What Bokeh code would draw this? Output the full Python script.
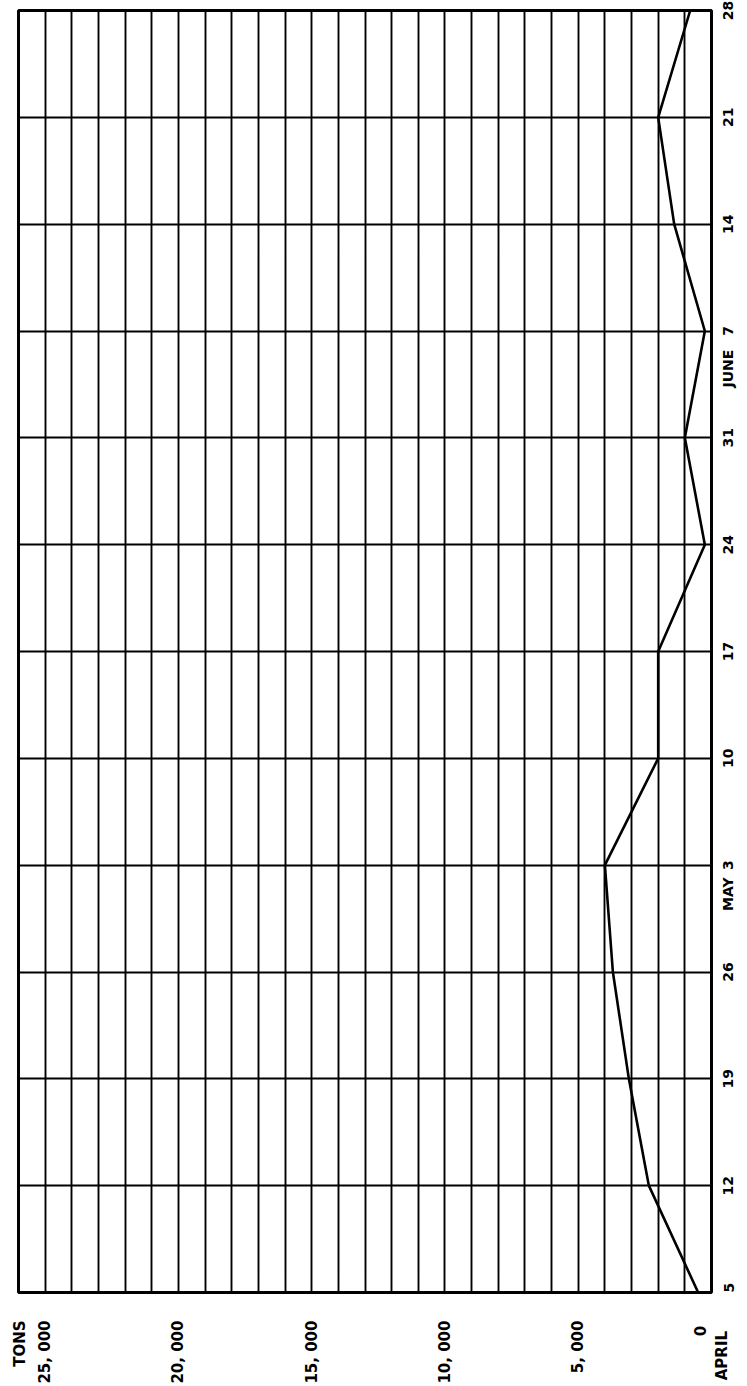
import math
from bokeh.plotting import figure
from bokeh.models import Range1d, FixedTicker
from bokeh.embed import file_html
from bokeh.resources import INLINE

# ---- data ----
week_days = [0, 7, 14, 21, 28, 35, 42, 49, 56, 63, 70, 77, 84]   # days since April 5
week_labels = ["5", "12", "19", "26", "3", "10", "17", "24", "31", "7", "14", "21", "28"]
tons = [500, 2350, 3100, 3700, 4000, 2000, 2000, 250, 1000, 250, 1400, 2000, 800]

month_names = ["APRIL", "MAY", "JUNE"]
month_days = [0, 28, 63]

ton_ticks = [0, 5000, 10000, 15000, 20000, 25000]
ton_labels = ["0", "5, 000", "10, 000", "15, 000", "20, 000", "25, 000"]
unit_label = "TONS"

FONT = "DejaVu Sans"
NB = "\u00a0"
W, H = 747, 1386
B_LEFT, B_RIGHT, B_TOP, B_BOTTOM = 18, 32, 10, 90
Y0, Y1 = 0, 84
PX_PER_DAY = (H - B_TOP - B_BOTTOM) / (Y1 - Y0)
DIGIT_W = 9.74   # approx. advance of a bold 14px digit

p = figure(width=W, height=H,
           x_range=Range1d(26000, 0), y_range=Range1d(Y0, Y1),
           output_backend="svg", toolbar_location=None,
           x_axis_location="below", y_axis_location="right",
           min_border_left=B_LEFT, min_border_right=B_RIGHT,
           min_border_top=B_TOP, min_border_bottom=B_BOTTOM)

p.background_fill_color = "white"
p.border_fill_color = "white"
p.outline_line_color = "black"
p.outline_line_width = 3
p.outline_line_alpha = 1

# grid
p.xgrid.ticker = FixedTicker(ticks=list(range(1000, 26000, 1000)))
p.ygrid.ticker = FixedTicker(ticks=week_days)
for g in (p.xgrid, p.ygrid):
    g.grid_line_color = "black"
    g.grid_line_width = 1.9
    g.grid_line_alpha = 1

# data line
p.line(x=tons, y=week_days, line_color="black", line_width=2.6)

# ---- bottom axis (tons) ----
unit_pos = 25925
xa = p.xaxis[0]
xa.ticker = FixedTicker(ticks=ton_ticks + [unit_pos])
xo = {t: l for t, l in zip(ton_ticks, ton_labels)}
xo[unit_pos] = unit_label
# the first month name sits under the frame, beside the zero label
xo[0] = xo[0] + NB + "\n" + month_names[0] + NB * 2
xa.major_label_overrides = xo
xa.major_label_orientation = math.pi / 2
xa.major_label_standoff = 22

# ---- right axis (dates) ----
# rotated right-axis labels start at their tick, so shift each tick down by
# half the label length to centre the label on its grid line
yt, yo = [], {}
for d, l in zip(week_days, week_labels):
    pos = d - len(l) * DIGIT_W / 2 / PX_PER_DAY
    pos = min(max(pos, Y0), Y1)
    yt.append(pos)
    yo[pos] = l
month_shift = {"MAY": 3.0, "JUNE": 3.7}
for m, d in zip(month_names[1:], month_days[1:]):
    pos = d - month_shift[m]
    yt.append(pos)
    yo[pos] = m
ya = p.yaxis[0]
ya.ticker = FixedTicker(ticks=yt)
ya.major_label_overrides = yo
ya.major_label_orientation = math.pi / 2
ya.major_label_standoff = 11

for ax, fs in ((xa, "15px"), (ya, "14px")):
    ax.axis_line_color = None
    ax.major_tick_line_color = None
    ax.minor_tick_line_color = None
    ax.major_label_text_font = FONT
    ax.major_label_text_font_style = "bold"
    ax.major_label_text_font_size = fs
    ax.major_label_text_color = "black"

open("out.html", "w").write(file_html(p, INLINE))
